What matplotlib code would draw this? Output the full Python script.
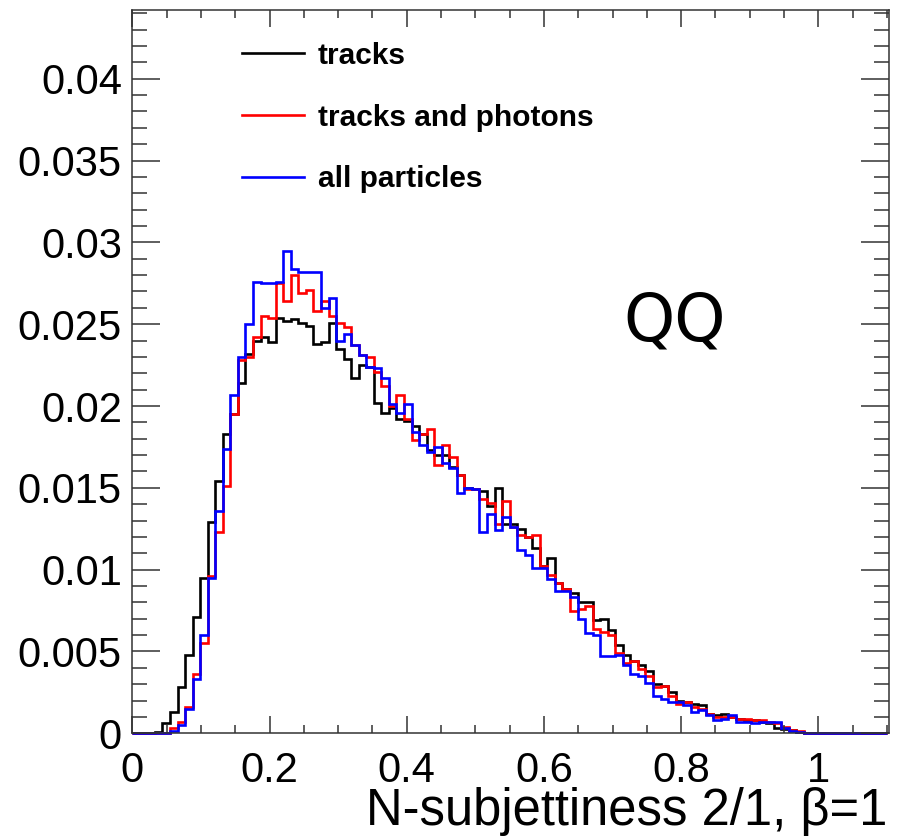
import numpy as np
import matplotlib
matplotlib.use("Agg")
from matplotlib import pyplot as plt
from matplotlib.lines import Line2D
from matplotlib.ticker import MultipleLocator, FuncFormatter

# 100 bins between 0 and 1.1
edges = np.linspace(0, 1.1, 101)

tracks = [
    0, 0, 0, 0.0001, 0.0006, 0.0013, 0.0028, 0.0048, 0.0071, 0.0095,
    0.0129, 0.0154, 0.0183, 0.0195, 0.0214, 0.0232, 0.0240, 0.0242, 0.0239, 0.0254,
    0.0252, 0.0253, 0.0251, 0.0249, 0.0238, 0.0239, 0.0251, 0.0235, 0.0229, 0.0217,
    0.0225, 0.0224, 0.0202, 0.0196, 0.0199, 0.0192, 0.0191, 0.0188, 0.0183, 0.0173,
    0.0170, 0.0170, 0.0163, 0.0158, 0.0150, 0.0149, 0.0148, 0.0139, 0.0150, 0.0128,
    0.0128, 0.0125, 0.0120, 0.0113, 0.0102, 0.0107, 0.0092, 0.0088, 0.0086, 0.0080,
    0.0080, 0.0069, 0.0070, 0.0063, 0.0054, 0.0048, 0.0044, 0.0042, 0.0038, 0.0030,
    0.0029, 0.0025, 0.0020, 0.0019, 0.0018, 0.0017, 0.0012, 0.0011, 0.0012, 0.0010,
    0.0009, 0.0008, 0.0008, 0.0007, 0.0006, 0.0003, 0.00026, 0.00018, 0.0001, 0,
    0, 0, 0, 0, 0, 0, 0, 0, 0, 0,
]
tracks_photons = [
    0, 0, 0, 0, 0, 0.0003, 0.0007, 0.0016, 0.0036, 0.0055,
    0.0096, 0.0123, 0.0151, 0.0195, 0.0228, 0.0230, 0.0242, 0.0255, 0.0254, 0.0275,
    0.0264, 0.0280, 0.0269, 0.0271, 0.0258, 0.0264, 0.0255, 0.0251, 0.0248, 0.0237,
    0.0231, 0.0230, 0.0221, 0.0212, 0.0200, 0.0207, 0.0192, 0.0179, 0.0183, 0.0186,
    0.0164, 0.0176, 0.0169, 0.0158, 0.0149, 0.0149, 0.0143, 0.0141, 0.0128, 0.0142,
    0.0126, 0.0121, 0.0120, 0.0121, 0.0102, 0.0097, 0.0092, 0.0088, 0.0075, 0.0076,
    0.0078, 0.0064, 0.0062, 0.0060, 0.0049, 0.0043, 0.0044, 0.0039, 0.0035, 0.0028,
    0.0029, 0.0023, 0.0018, 0.0019, 0.0016, 0.0015, 0.0012, 0.0010, 0.0010, 0.0010,
    0.0009, 0.0009, 0.0008, 0.0008, 0.0007, 0.0006, 0.0004, 0.0002, 0.00014, 0,
    0, 0, 0, 0, 0, 0, 0, 0, 0, 0,
]
all_particles = [
    0, 0, 0, 0, 0, 0.00014, 0.0005, 0.0015, 0.0033, 0.0060,
    0.0095, 0.0136, 0.0174, 0.0207, 0.0230, 0.0250, 0.0276, 0.0275, 0.0275, 0.0276,
    0.0295, 0.0284, 0.0282, 0.0282, 0.0282, 0.0260, 0.0266, 0.0240, 0.0244, 0.0237,
    0.0231, 0.0224, 0.0223, 0.0217, 0.0201, 0.0196, 0.0201, 0.0184, 0.0176, 0.0172,
    0.0175, 0.0165, 0.0162, 0.0147, 0.0150, 0.0149, 0.0123, 0.0134, 0.0124, 0.0132,
    0.0126, 0.0112, 0.0109, 0.0101, 0.0101, 0.0094, 0.0087, 0.0087, 0.0083, 0.0070,
    0.0061, 0.0060, 0.0047, 0.0047, 0.0048, 0.0042, 0.0036, 0.0035, 0.0031, 0.0023,
    0.0021, 0.0019, 0.0019, 0.0017, 0.0013, 0.0014, 0.0011, 0.0008, 0.0009, 0.0011,
    0.0007, 0.0007, 0.0006, 0.0007, 0.0007, 0.0007, 0.0003, 0.00016, 0.0001, 0,
    0, 0, 0, 0, 0, 0, 0, 0, 0, 0,
]

labels = ["tracks", "tracks and photons", "all particles"]
colors = ["black", "#ff0000", "#0000ff"]

plt.rcParams['font.family'] = ['Liberation Sans', 'DejaVu Sans']

W, H = 897, 838
fig = plt.figure(figsize=(W / 100, H / 100), dpi=100)
ax = fig.add_axes([132.3 / W, 1 - 733.3 / H, (889 - 132.3) / W, (733.3 - 10) / H])

for vals, c in zip([tracks, tracks_photons, all_particles], colors):
    ax.stairs(vals, edges, color=c, lw=1.9, baseline=0, clip_on=False)

ax.set_xlim(0, 1.103)
ax.set_ylim(0, 0.0442)

frame_col = "#333333"
for s in ax.spines.values():
    s.set_color(frame_col)
    s.set_linewidth(1.1)

ax.xaxis.set_major_locator(MultipleLocator(0.2))
ax.xaxis.set_minor_locator(MultipleLocator(0.05))
ax.yaxis.set_major_locator(MultipleLocator(0.005))
ax.yaxis.set_minor_locator(MultipleLocator(0.001))
fmt = FuncFormatter(lambda v, p: "%g" % round(v, 6))
ax.xaxis.set_major_formatter(fmt)
ax.yaxis.set_major_formatter(fmt)

ax.tick_params(which="both", direction="in", top=True, right=True,
               color=frame_col, width=1.1)
ax.tick_params(axis="x", which="major", length=12, pad=12.5, labelsize=30)
ax.tick_params(axis="x", which="minor", length=6)
ax.tick_params(axis="y", which="major", length=20.5, pad=7.5, labelsize=30)
ax.tick_params(axis="y", which="minor", length=10.5)

handles = [Line2D([], [], color=c, lw=1.9) for c in colors]
ax.legend(handles, labels, loc="upper left", frameon=False,
          bbox_to_anchor=(241.7 / W, 1 - 41.8 / H), bbox_transform=fig.transFigure,
          borderpad=0, borderaxespad=0, handlelength=2.08, handletextpad=0.47,
          labelspacing=1.13, prop={"family": "Liberation Sans", "weight": "bold", "size": 21.5})

fig.text(623 / W, 1 - 340 / H, "QQ", fontsize=47, family="DejaVu Sans",
         ha="left", va="baseline")
fig.text(887 / W, 1 - 825 / H, "N-subjettiness 2/1, β=1", fontsize=36.5,
         ha="right", va="baseline")

fig.savefig("out.png", dpi=100, facecolor="white")
